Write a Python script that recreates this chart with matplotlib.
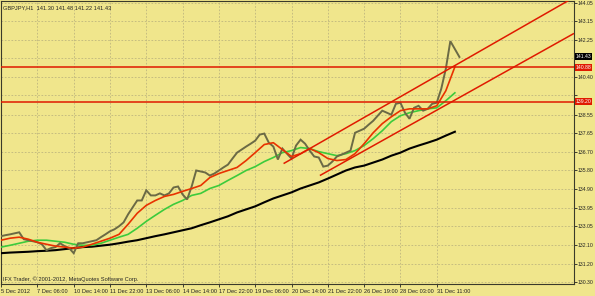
import numpy as np
import matplotlib
matplotlib.use('Agg')
import matplotlib.pyplot as plt
import matplotlib.transforms as mtransforms
from matplotlib import font_manager

# ---------------- data ----------------
symbol_text = "GBPJPY,H1  141.30 141.48 141.22 141.43"
copyright_text = "IFX Trader, \u00a9 2001-2012, MetaQuotes Software Corp."

bar_step = 4  # one close value every 4 H1 bars
close = [132.56, 132.61, 132.65, 132.70, 132.75, 132.41, 132.36, 132.31, 132.26, 132.16,
         131.87, 131.97, 132.02, 132.21, 132.07, 131.97, 131.72, 132.21, 132.21, 132.26,
         132.31, 132.36, 132.51, 132.65, 132.80, 132.90, 133.05, 133.24, 133.64, 133.98,
         134.32, 134.32, 134.82, 134.57, 134.57, 134.67, 134.57, 134.67, 134.96, 135.01,
         134.62, 134.37, 135.01, 135.80, 135.75, 135.70, 135.55, 135.65, 135.80, 135.95,
         136.09, 136.39, 136.68, 136.83, 136.98, 137.12, 137.27, 137.57, 137.62, 137.17,
         136.98, 136.34, 136.88, 136.63, 136.39, 137.03, 137.32, 137.12, 136.78, 136.49,
         136.44, 135.99, 136.04, 136.24, 136.49, 136.58, 136.68, 136.78, 137.66, 137.76,
         137.86, 138.06, 138.25, 138.50, 138.75, 138.65, 138.55, 139.09, 139.14, 138.65,
         138.35, 138.89, 138.99, 138.75, 138.84, 139.09, 139.14, 139.83, 140.81, 142.18,
         141.79, 141.40]

ma_step = 8
ma_fast = [132.36, 132.46, 132.51, 132.41, 132.26, 132.16, 132.07, 132.02, 131.97, 132.02,
           132.16, 132.31, 132.46, 132.65, 133.15, 133.69, 134.08, 134.32, 134.52, 134.62,
           134.77, 134.91, 135.06, 135.45, 135.65, 135.80, 135.95, 136.29, 136.68, 137.08,
           137.17, 136.83, 136.49, 136.63, 136.88, 136.68, 136.39, 136.29, 136.34, 136.63,
           137.12, 137.66, 138.11, 138.45, 138.75, 138.84, 138.84, 138.84, 138.99, 139.73,
           140.91]
ma_mid = [132.02, 132.11, 132.21, 132.31, 132.36, 132.36, 132.31, 132.26, 132.16, 132.11,
          132.11, 132.21, 132.36, 132.51, 132.65, 132.95, 133.29, 133.59, 133.88, 134.13,
          134.32, 134.57, 134.67, 134.91, 135.06, 135.31, 135.55, 135.80, 135.99, 136.24,
          136.44, 136.68, 136.78, 136.93, 136.88, 136.73, 136.63, 136.53, 136.63, 136.78,
          137.03, 137.37, 137.76, 138.21, 138.50, 138.65, 138.75, 138.84, 138.89, 139.24,
          139.63]
ma_slow = [131.72, 131.75, 131.77, 131.79, 131.82, 131.84, 131.87, 131.92, 131.97, 132.02,
           132.04, 132.09, 132.14, 132.21, 132.29, 132.36, 132.46, 132.56, 132.65, 132.75,
           132.85, 132.95, 133.10, 133.24, 133.39, 133.54, 133.73, 133.88, 134.03, 134.23,
           134.42, 134.57, 134.72, 134.91, 135.06, 135.21, 135.40, 135.60, 135.80, 135.95,
           136.04, 136.19, 136.34, 136.53, 136.68, 136.88, 137.03, 137.17, 137.32, 137.52,
           137.71]

level_lines = [140.88, 139.20]
last_price = 141.43
upper_channel_bars = [249, 476]
upper_channel_prices = [136.14, 143.41]
lower_channel_bars = [281, 504]
lower_channel_prices = [135.55, 142.53]

xtick_bars = [0, 32, 64, 96, 128, 160, 192, 224, 256, 288, 320, 352, 384]
xtick_labels = ["5 Dec 2012", "7 Dec 06:00", "10 Dec 14:00", "11 Dec 22:00", "13 Dec 06:00",
                "14 Dec 14:00", "17 Dec 22:00", "19 Dec 06:00", "20 Dec 14:00",
                "21 Dec 22:00", "26 Dec 19:00", "28 Dec 03:00", "31 Dec 11:00"]
ytick_values = [144.05, 143.15, 142.25, 141.35, 140.40, 139.50, 138.55, 137.65, 136.70,
                135.80, 134.90, 133.95, 133.05, 132.10, 131.20, 130.30]
ytick_hidden = [141.35, 139.50]

# ---------------- style ----------------
bg = '#F0E68C'
grid_c = '#BEB67E'
price_c = '#6B6A45'
red_c = '#E01A00'
ma_fast_c = '#E83200'
ma_mid_c = '#3CCB3C'

available = {f.name for f in font_manager.fontManager.ttflist}
if 'Liberation Sans Narrow' in available:
    font = ['Liberation Sans Narrow', 'DejaVu Sans']
    fs = 4.7
else:
    font = ['Liberation Sans', 'DejaVu Sans']
    fs = 4.1
plt.rcParams['font.family'] = font

W, H = 595, 296
fig = plt.figure(figsize=(W / 100, H / 100), dpi=100, facecolor=bg)
ax_left, ax_right, ax_top, ax_bottom = 0.5, 574, 1, 284
ax = fig.add_axes([ax_left / W, (H - ax_bottom) / H, (ax_right - ax_left) / W, (ax_bottom - ax_top) / H])
ax.set_facecolor(bg)
ax.set_xlim(-0.5, 505)
ax.set_ylim(130.20, 144.16)

# grid
ax.set_xticks(xtick_bars)
ax.set_yticks(ytick_values)
ax.grid(True, color=grid_c, linestyle=(0, (2, 2)), linewidth=0.6)
ax.set_axisbelow(True)

# series
price_x = np.arange(len(close)) * bar_step
ma_x = np.arange(len(ma_fast)) * ma_step
ax.plot(ma_x, ma_slow, color='black', lw=1.5, zorder=3)
ax.plot(ma_x, ma_mid, color=ma_mid_c, lw=1.2, zorder=3)
ax.plot(price_x, close, color=price_c, lw=1.4, zorder=4, solid_joinstyle='miter')
ax.plot(ma_x, ma_fast, color=ma_fast_c, lw=1.2, zorder=5)

# horizontal levels
for lv in level_lines:
    ax.axhline(lv, color=red_c, lw=1.1, zorder=6)

# channel rays
xmax = ax.get_xlim()[1]
for bx, py in ((upper_channel_bars, upper_channel_prices), (lower_channel_bars, lower_channel_prices)):
    slope = (py[1] - py[0]) / (bx[1] - bx[0])
    ax.plot([bx[0], xmax], [py[0], py[0] + slope * (xmax - bx[0])], color=red_c, lw=1.1, zorder=6,
            solid_capstyle='butt')

# axes styling
for s in ax.spines.values():
    s.set_color('#3A3A2A')
    s.set_linewidth(0.8)
ax.yaxis.tick_right()
ax.tick_params(axis='y', direction='out', length=2.0, width=0.6, pad=0.8, labelsize=fs,
               colors='#222222', right=True, left=False, labelright=True, labelleft=False)
ax.tick_params(axis='x', direction='out', length=2.5, width=0.6, pad=1.0, labelsize=fs,
               colors='#222222')
ax.set_xticklabels(xtick_labels, ha='left')
ax.set_yticklabels(['' if v in ytick_hidden else f'{v:.2f}' for v in ytick_values])

# right-side price boxes
trans = mtransforms.blended_transform_factory(ax.transAxes, ax.transData)
boxes = []
for lv in level_lines:
    boxes.append(ax.text(1.003, lv, f'{lv:.2f}', transform=trans, ha='left', va='center', fontsize=fs,
                         color='white', clip_on=False, zorder=10,
                         bbox=dict(boxstyle='square,pad=0.15', fc=red_c, ec='none')))
boxes.append(ax.text(1.003, last_price, f'{last_price:.2f}', transform=trans, ha='left', va='center',
                     fontsize=fs, color='white', clip_on=False, zorder=10,
                     bbox=dict(boxstyle='square,pad=0.15', fc='black', ec='none')))

# texts
ax.text(0.005, 0.985, symbol_text, transform=ax.transAxes, ha='left', va='top', fontsize=fs,
        color='#222222')
ax.text(0.005, 0.008, copyright_text, transform=ax.transAxes, ha='left', va='bottom', fontsize=fs,
        color='#222222')

# shrink right-side labels if they would run past the figure edge
fig.canvas.draw()
renderer = fig.canvas.get_renderer()
for _ in range(10):
    items = [t for t in ax.get_yticklabels() if t.get_text()] + boxes
    right = max(t.get_window_extent(renderer).x1 for t in items)
    if right <= W - 1:
        break
    new_fs = items[0].get_fontsize() * (W - 1 - 578) / (right - 578)
    for t in items:
        t.set_fontsize(new_fs)
    fig.canvas.draw()

fig.savefig('out.png', dpi=100, facecolor=bg)
